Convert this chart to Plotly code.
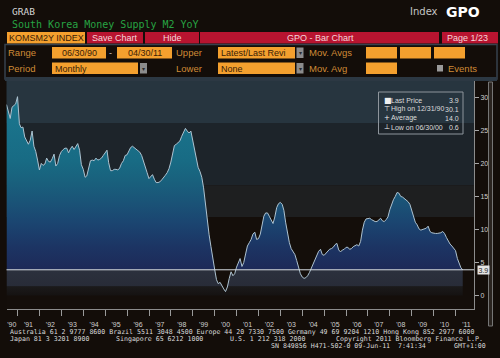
import calendar
import plotly.graph_objects as go

# ---------------- data ----------------
START_YEAR, START_MONTH = 1990, 6
M2_YOY = [
    28.9, 28.0, 26.8, 28.5, 28.7, 29.0, 30.1,                                   # Jun-Dec 1990
    26.0, 25.4, 25.5, 24.0, 23.4, 22.9, 23.5, 24.9, 22.6, 21.8, 20.5, 19.0,     # 1991
    20.0, 19.7, 19.9, 20.8, 20.3, 20.2, 20.7, 21.4, 19.6, 20.0, 21.2, 21.8,     # 1992
    22.1, 22.3, 22.3, 21.6, 22.2, 22.6, 22.1, 22.6, 23.0, 22.0, 19.8, 19.1,     # 1993
    17.9, 18.1, 19.4, 20.4, 20.5, 20.4, 20.8, 20.5, 20.6, 20.8, 21.2, 21.6,     # 1994
    22.0, 20.1, 18.9, 18.9, 19.1, 19.1, 19.0, 19.3, 20.0, 20.4, 21.2, 21.3,     # 1995
    21.8, 22.4, 22.6, 22.4, 22.2, 22.0, 21.7, 21.2, 20.4, 19.7, 18.6, 17.7,     # 1996
    18.1, 18.3, 17.6, 17.1, 17.1, 17.2, 17.5, 17.8, 18.2, 18.6, 19.2, 20.2,     # 1997
    21.6, 22.7, 22.9, 23.1, 23.4, 24.1, 24.7, 25.3, 24.9, 24.6, 24.9, 23.5,     # 1998
    22.0, 20.6, 19.4, 18.8, 17.9, 16.3, 13.8, 11.3, 9.2, 7.4, 5.5, 4.0,         # 1999
    2.4, 1.8, 2.0, 1.4, 1.0, 0.6, 1.3, 2.6, 3.6, 3.0, 3.3, 4.3,                 # 2000
    5.1, 5.6, 4.4, 5.0, 6.3, 7.5, 8.0, 8.5, 9.3, 9.6, 8.5, 8.6,                 # 2001
    9.3, 10.6, 12.0, 12.5, 12.5, 12.0, 11.3, 10.9, 11.9, 13.3, 13.9, 14.1,      # 2002
    13.8, 12.9, 11.0, 9.5, 8.0, 7.1, 6.6, 6.2, 5.3, 4.1, 3.3, 2.8,              # 2003
    2.6, 2.7, 3.0, 3.5, 4.1, 4.8, 5.4, 6.1, 6.7, 7.0, 6.2, 6.1,                 # 2004
    6.4, 6.7, 7.0, 7.1, 7.3, 7.7, 7.9, 6.9, 6.6, 6.9, 7.0, 7.3,                 # 2005
    7.3, 7.0, 7.1, 7.4, 7.6, 7.7, 7.5, 8.2, 9.9, 11.1, 11.6, 11.7,              # 2006
    11.7, 11.5, 11.3, 11.2, 11.2, 11.4, 11.7, 11.3, 11.2, 11.5, 11.9, 13.0,     # 2007
    13.8, 14.5, 15.0, 15.6, 15.5, 15.0, 14.9, 14.7, 14.5, 14.2, 13.8, 12.8,     # 2008
    12.0, 11.1, 10.7, 10.1, 9.9, 10.0, 10.2, 10.2, 10.5, 9.7, 9.5, 9.4,         # 2009
    9.4, 9.4, 9.4, 9.5, 9.7, 9.4, 8.8, 8.2, 7.8, 7.5, 7.2, 6.8,                 # 2010
    5.6, 4.8, 4.2, 3.9,                                                         # Jan-Apr 2011
]
LAST_PRICE = 3.9
LEGEND_LABELS = ["Last Price", "High on 12/31/90", "Average", "Low on 06/30/00"]
LEGEND_VALUES = ["3.9", "30.1", "14.0", "0.6"]
LEGEND_MARKS = ["■", "⊤", "+", "⊥"]
XTICK_YEARS = list(range(1990, 2012))
XTICK_LABELS = ["'90", "'91", "'92", "'93", "'94", "'95", "'96", "'97", "'98", "'99", "'00",
                "'01", "'02", "'03", "'04", "'05", "'06", "'07", "'08", "'09", "'10", "'11"]
YTICKS = [0, 5, 10, 15, 20, 25, 30]

# month-end dates
dates = []
yy, mm = START_YEAR, START_MONTH
for _ in M2_YOY:
    dates.append(f"{yy}-{mm:02d}-{calendar.monthrange(yy, mm)[1]:02d}")
    mm += 1
    if mm > 12:
        mm, yy = 1, yy + 1

# ---------------- styling ----------------
W, H = 500, 358
BG = "#130d09"
UI = "Liberation Sans"
MONO = "DejaVu Sans Mono"
ORANGE = "#f4a02e"
LABEL_ORANGE = "#cf8b36"
RED = "#b81430"

FILL_SCALE = [
    [0.0, "#151211"], [0.045, "#1b1a1b"], [0.05, "#282c38"], [0.128, "#2b303d"],
    [0.135, "#1d2a58"], [0.25, "#1c3564"], [0.36, "#1b4470"], [0.47, "#1a5377"],
    [0.58, "#19617d"], [0.68, "#186b84"], [1.0, "#1b7890"],
]

shapes, annos = [], []


def rect(x0, y0, x1, y1, fill, line=None, lw=1, layer="above"):
    shapes.append(dict(type="rect", xref="paper", yref="paper",
                       x0=x0 / W, x1=x1 / W, y0=1 - y1 / H, y1=1 - y0 / H,
                       fillcolor=fill, layer=layer,
                       line=dict(width=lw if line else 0, color=line or "rgba(0,0,0,0)")))


def text(x, y, s, size=9, color="#d0d0d0", family=UI, anchor="left", bold=False):
    if bold:
        s = f"<b>{s}</b>"
    annos.append(dict(xref="paper", yref="paper", x=x / W, y=1 - y / H, text=s,
                      showarrow=False, xanchor=anchor, yanchor="middle",
                      font=dict(size=size, color=color, family=family), borderpad=0))


# ---------------- header ----------------
text(11, 12, "GRAB", 9.5, "#d4d4d4", MONO)
text(11, 24.5, "South Korea Money Supply M2 YoY", 10, "#27a343", MONO)
text(409, 12, "Index", 10, "#c4c4c4", "DejaVu Sans")
text(445, 12, "GPO", 14, "#ffffff", "DejaVu Sans", bold=True)

# row 1 buttons
rect(7, 32, 85, 43.5, ORANGE)
text(46, 37.8, "KOMSM2Y INDEX", 9, "#3a2106", UI, "center")
rect(87, 32, 143, 43.5, RED)
text(115, 37.8, "Save Chart", 9, "#f6d4da", UI, "center")
rect(145, 32, 199, 43.5, RED)
text(172, 37.8, "Hide", 9, "#f6d4da", UI, "center")
rect(200, 32, 439, 43.5, RED)
text(320, 37.8, "GPO - Bar Chart", 9, "#f6d4da", UI, "center")
rect(442, 32, 498, 43.5, RED)
text(467, 37.8, "Page 1/23", 9, "#f6d4da", UI, "center")

# control panel frame
rect(5, 44.5, 497, 79, "rgba(0,0,0,0)", "#37424d", 1.5)
rect(5, 77, 497, 81, "#2c3843")

# row 2
text(7, 53, "Range", 9.5, LABEL_ORANGE)
rect(52, 47, 106, 58.5, ORANGE)
text(79, 53, "06/30/90", 9, "#3a2106", UI, "center")
text(110.5, 53, "-", 9, "#c8c8c8", UI, "center")
rect(117, 47, 172, 58.5, ORANGE)
text(144.5, 53, "04/30/11", 9, "#3a2106", UI, "center")
text(175, 53, "Upper", 9.5, LABEL_ORANGE)
rect(218, 47, 295, 58.5, ORANGE)
text(219.5, 53, "Latest/Last Revi", 9, "#3a2106")
rect(296.5, 47.5, 303.5, 58, "#8c8c8c")
text(300, 53, "▾", 6, "#2a2a2a", UI, "center")
text(308, 53, "Mov. Avgs", 9.5, LABEL_ORANGE)
rect(366, 47, 397, 58.5, ORANGE)
rect(400, 47, 431, 58.5, ORANGE)
rect(434, 47, 465, 58.5, ORANGE)

# row 3
text(7, 68.5, "Period", 9.5, LABEL_ORANGE)
rect(52, 62.5, 138, 74, ORANGE)
text(53.5, 68.5, "Monthly", 9, "#3a2106")
rect(140, 63, 147, 73.5, "#8c8c8c")
text(143.5, 68.5, "▾", 6, "#2a2a2a", UI, "center")
text(175, 68.5, "Lower", 9.5, LABEL_ORANGE)
rect(218, 62.5, 295, 74, ORANGE)
text(219.5, 68.5, "None", 9, "#3a2106")
rect(296.5, 63, 303.5, 73.5, "#8c8c8c")
text(300, 68.5, "▾", 6, "#2a2a2a", UI, "center")
text(308, 68.5, "Mov. Avg", 9.5, LABEL_ORANGE)
rect(366, 62.5, 397, 74, ORANGE)
rect(437, 65, 443, 71.5, "#9a9a9a")
text(446.5, 68.5, "Events", 9.5, LABEL_ORANGE)

# scroll bar at right of chart
rect(488.5, 82, 492.5, 326, "#2a2420", "#767676", 1)

# ---------------- chart background bands (value coordinates) ----------------
for lo, hi, col in [(26.1, 32.47, "#27353f"), (16.7, 26.1, "#1d242a"),
                    (11.9, 16.7, "#1e1f20")]:
    shapes.append(dict(type="rect", xref="x domain", yref="y", x0=0, x1=1, y0=lo, y1=hi,
                       fillcolor=col, line=dict(width=0), layer="below"))

# last price line
shapes.append(dict(type="line", xref="x domain", yref="y", x0=0, x1=1,
                   y0=LAST_PRICE, y1=LAST_PRICE, line=dict(color="#d6dce2", width=1),
                   layer="above"))
annos.append(dict(xref="paper", yref="y", x=477 / W, y=LAST_PRICE, text=f"{LAST_PRICE}",
                  showarrow=False, xanchor="left", yanchor="middle", bgcolor="#e4e4e4",
                  font=dict(size=7, color="#1e1e1e", family=UI), borderpad=0.5))

# legend box
rect(378.5, 92, 463, 134, "rgba(0,0,0,0)", "#8e959c", 1)
for i, (mk, lab, val) in enumerate(zip(LEGEND_MARKS, LEGEND_LABELS, LEGEND_VALUES)):
    yl = 100 + i * 9.1
    text(382.5, yl, mk, 7 if i else 8, "#f0f0f0", "DejaVu Sans")
    text(389.5, yl, lab, 7, "#dcdcdc", UI)
    text(460, yl, val, 7, "#dcdcdc", UI, "right")

# ---------------- footer ----------------
FC = "#dadada"
FS = 6.6
text(9, 331.5, "Australia 61 2 9777 8600 Brazil 5511 3048 4500 Europe 44 20 7330 7500 "
     "Germany 49 69 9204 1210 Hong Kong 852 2977 6000", FS, FC, MONO)
text(9, 338.5, "Japan 81 3 3201 8900", FS, FC, MONO)
text(115, 338.5, "Singapore 65 6212 1000", FS, FC, MONO)
text(229, 338.5, "U.S. 1 212 318 2000", FS, FC, MONO)
text(335, 338.5, "Copyright 2011 Bloomberg Finance L.P.", FS, FC, MONO)
text(270, 345.5, "SN 849856 H471-502-0 09-Jun-11  7:41:34", FS, FC, MONO)
text(453, 345.5, "GMT+1:00", FS, FC, MONO)

# ---------------- figure ----------------
fig = go.Figure()
fig.add_trace(go.Scatter(
    x=dates, y=M2_YOY, mode="lines", line=dict(color="#aec3d1", width=1),
    fill="tozeroy",
    fillgradient=dict(type="vertical", start=0, stop=30, colorscale=FILL_SCALE),
    hoverinfo="skip",
))

label_pos = [f"{yr}-07-01" if yr != 1990 else "1990-09-25" for yr in XTICK_YEARS]
jan_ticks = [f"{yr}-01-01" for yr in XTICK_YEARS[1:]]

fig.update_layout(
    width=W, height=H, autosize=False,
    margin=dict(l=0, r=0, t=0, b=0, pad=0),
    paper_bgcolor=BG, plot_bgcolor="#140e0a",
    showlegend=False,
    font=dict(family=UI),
    shapes=shapes, annotations=annos,
    xaxis=dict(
        type="date", domain=[6.5 / W, 474 / W], range=["1990-06-30", "2011-11-04"],
        showgrid=False, zeroline=False, showline=True, linecolor="#8c8c8c", linewidth=1,
        tickmode="array", tickvals=label_pos, ticktext=XTICK_LABELS,
        ticks="outside", ticklen=8, tickcolor="rgba(0,0,0,0)",
        tickfont=dict(size=7, color="#cfcfcf", family=UI),
        minor=dict(tickmode="array", tickvals=jan_ticks, ticks="outside", ticklen=6,
                   tickcolor="#9a9a9a", tickwidth=1, showgrid=False),
        fixedrange=True,
    ),
    yaxis=dict(
        domain=[1 - 309.3 / H, 1 - 81 / H], range=[-2.08, 32.47], side="right",
        tickmode="array", tickvals=YTICKS, ticks="outside", ticklen=4,
        tickcolor="#a8a8a8", tickfont=dict(size=7, color="#cfcfcf", family=UI),
        showline=True, linecolor="#8c8c8c", linewidth=1,
        showgrid=False, zeroline=False, fixedrange=True,
    ),
)

fig.write_html(
    "out.html",
    config={"displayModeBar": False},
    post_script="document.body.style.margin='0';document.body.style.overflow='hidden';"
                "document.body.style.background='" + BG + "';",
)
